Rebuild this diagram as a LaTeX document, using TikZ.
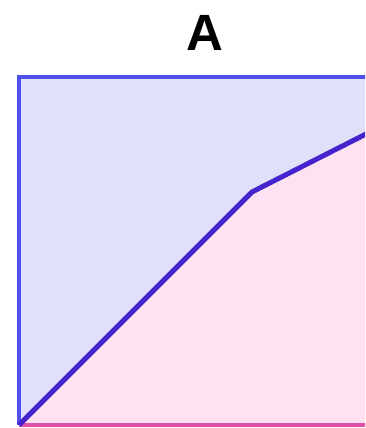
\documentclass[tikz,border=0pt]{standalone}
\usepackage{fontspec}
\setmainfont{Liberation Sans}
\begin{document}
\begin{tikzpicture}[x=1pt, y=1pt]
    \definecolor{edgeColourA}{HTML}{4F4FEE}
    \definecolor{edgeColourB}{HTML}{E050A8}
    \definecolor{curveColour}{HTML}{4424CC}
    \definecolor{fillColourA}{HTML}{E0E0FA}
    \definecolor{fillColourB}{HTML}{FFE2F2}

    \useasboundingbox (0,0) rectangle (365,428);
    \clip (0,0) rectangle (365,428);

    % Corners of the square
    \coordinate (SW) at (19,3);
    \coordinate (NW) at (19,351);
    \coordinate (NE) at (370,351);
    \coordinate (SE) at (370,3);

    % Break of the curve
    \coordinate (K) at (252,236);
    \coordinate (E) at (370,296);

    % Fill regions
    \fill[fillColourA] (SW) -- (NW) -- (NE) -- (E) -- (K) -- cycle;
    \fill[fillColourB] (SW) -- (K) -- (E) -- (SE) -- cycle;

    % Draw edges
    \draw[edgeColourA, line width=4.5pt] (SW) -- (NW) -- (NE);
    \draw[edgeColourB, line width=4.5pt] (SW) -- (SE);

    % Draw curve
    \draw[curveColour, line width=5pt, line join=round] (SW) -- (K) -- (E);

    % Title
    \node[anchor=base] (title) at (205,377) {\fontsize{51}{60}\selectfont\bfseries A};

\end{tikzpicture}
\end{document}
